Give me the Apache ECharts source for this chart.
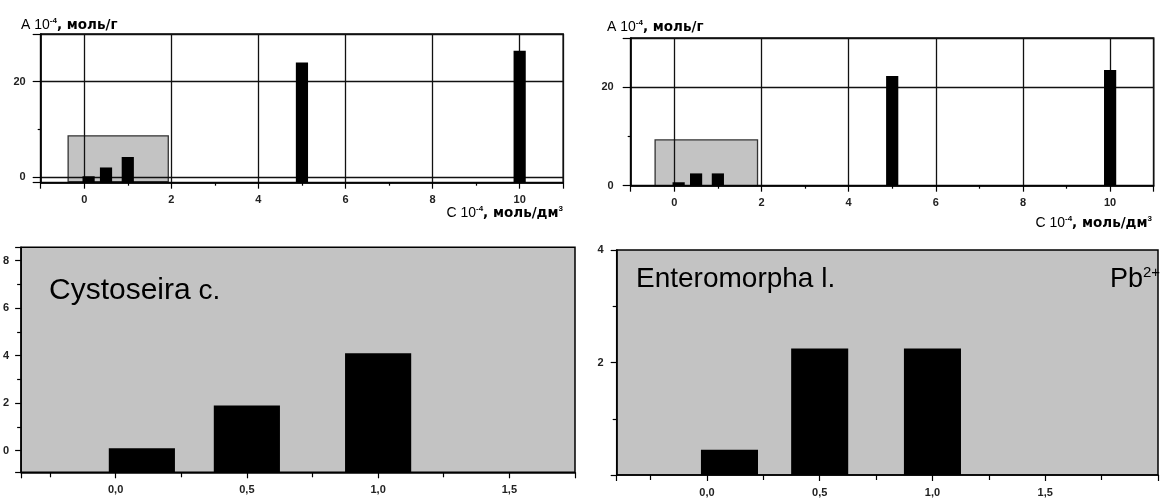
<!DOCTYPE html>
<html lang="ru">

<head>
    <meta charset="UTF-8">
    <title>Сорбция Pb2+</title>
    <script src="https://cdn.jsdelivr.net/npm/echarts@6/dist/echarts.min.js"></script>
    <style>
        html, body { margin: 0; padding: 0; background: #fff; overflow: hidden; }
        #main { width: 1161px; height: 500px; }
    </style>
</head>

<body>
    <div id="main"></div>
    <script>
        // C 10^-4, моль/дм3 -> A 10^-4, моль/г
        const concAll = [0.1, 0.5, 1, 5, 10]
        const cystoseiraAll = [0.1, 1.95, 4.15, 24, 26.5]
        const enteromorphaAll = [0.7, 2.5, 2.5, 22.3, 23.5]

        // enlarged part (lower panels)
        const concLow = [0.1, 0.5, 1]
        const cystoseiraLow = [0.1, 1.9, 4.1]
        const enteromorphaLow = [0.45, 2.25, 2.25]

        // grey frame on the upper charts: [x0, x1, y0, y1]
        const cystoseiraFrame = [-0.37, 1.93, -1.05, 8.6]
        const enteromorphaFrame = [-0.44, 1.91, 0, 9.3]

        // tick labels
        const topXLabels = [0, 2, 4, 6, 8, 10]
        const topYLabels = [0, 20]
        const lowXLabels = [0, 0.5, 1, 1.5]
        const cystoseiraYLabels = [0, 2, 4, 6, 8]
        const enteromorphaYLabels = [2, 4]

        const GREY = '#c3c3c3'
        const FONT = "'Liberation Sans', Arial, sans-serif"

        const chart = echarts.init(document.querySelector('#main'))

        const near = (list, v) => list.some(t => Math.abs(t - v) < 1e-6)

        const barItem = (w) => (params, api) => {
            let x = api.value(0)
            let y = api.value(1)
            let a = api.coord([x - w / 2, y])
            let b = api.coord([x + w / 2, y])
            let bottom = params.coordSys.y + params.coordSys.height
            return {
                type: 'rect',
                shape: { x: a[0], y: a[1], width: b[0] - a[0], height: bottom - a[1] },
                style: { fill: '#000' }
            }
        }

        const frameItem = (params, api) => {
            let p0 = api.coord([api.value(0), api.value(3)])
            let p1 = api.coord([api.value(1), api.value(2)])
            return {
                type: 'rect',
                shape: { x: p0[0], y: p0[1], width: p1[0] - p0[0], height: p1[1] - p0[1] },
                style: { fill: GREY, stroke: '#333', lineWidth: 1.3 }
            }
        }

        const axis = (gridIndex, min, max, step, labels, fmt, split, margin, tickLen, minorLen) => ({
            type: 'value',
            gridIndex: gridIndex,
            min: min,
            max: max,
            minInterval: step,
            maxInterval: step,
            axisLine: { onZero: false, lineStyle: { color: '#000', width: 1.5 } },
            axisTick: { length: tickLen, lineStyle: { color: '#000', width: 1.2 } },
            minorTick: { show: true, splitNumber: 2, length: minorLen, lineStyle: { color: '#000', width: 1.2 } },
            axisLabel: {
                margin: margin,
                fontFamily: FONT, fontSize: 11, fontWeight: 'bold', color: '#222',
                formatter: v => near(labels, v) ? fmt(v) : ''
            },
            splitLine: { show: split, lineStyle: { color: '#111', width: 1.3 } }
        })

        const plain = v => String(Math.round(v))
        const comma = v => v.toFixed(1).replace('.', ',')

        const unitRich = {
            a: { fontFamily: FONT, fontSize: 14, color: '#111', lineHeight: 16 },
            s: { fontFamily: FONT, fontSize: 8, fontWeight: 'bold', color: '#111', verticalAlign: 'top', lineHeight: 16 },
            b: { fontFamily: "'DejaVu Sans', sans-serif", fontSize: 13.5, fontWeight: 'bold', color: '#111', lineHeight: 16 }
        }

        const label = (x, y, text, align, rich) => ({
            type: 'text',
            x: x,
            y: y,
            style: { text: text, rich: rich, align: align, verticalAlign: 'middle' }
        })

        const option = {
            animation: false,
            grid: [
                { left: 40.7, top: 34, width: 522.5, height: 148.7, show: true, borderColor: '#000', borderWidth: 1.5, backgroundColor: 'transparent' },
                { left: 630.7, top: 38.1, width: 523, height: 147.6, show: true, borderColor: '#000', borderWidth: 1.5, backgroundColor: 'transparent' },
                { left: 21, top: 247.3, width: 554, height: 225, show: true, borderColor: '#000', borderWidth: 1.5, backgroundColor: GREY },
                { left: 616.7, top: 250, width: 583, height: 225, show: true, borderColor: '#000', borderWidth: 1.5, backgroundColor: GREY }
            ],
            xAxis: [
                axis(0, -1, 11, 2, topXLabels, plain, true, 12, 6, 3),
                axis(1, -1, 11, 2, topXLabels, plain, true, 12, 6, 3),
                axis(2, -0.36, 1.75, 0.5, lowXLabels, comma, false, 12, 6, 5),
                axis(3, -0.4, 2.0, 0.5, lowXLabels, comma, false, 12, 6, 5)
            ],
            yAxis: [
                axis(0, -1.25, 30, 20, topYLabels, plain, true, 15, 8, 3),
                axis(1, 0, 30, 20, topYLabels, plain, true, 17, 8, 3),
                axis(2, -0.91, 8.56, 2, cystoseiraYLabels, plain, false, 12, 6, 4),
                axis(3, 0, 4, 2, enteromorphaYLabels, plain, false, 13, 6, 4)
            ],
            series: [
                { type: 'custom', xAxisIndex: 0, yAxisIndex: 0, z: -1, renderItem: frameItem, data: [cystoseiraFrame] },
                { type: 'custom', xAxisIndex: 1, yAxisIndex: 1, z: -1, renderItem: frameItem, data: [enteromorphaFrame] },
                { type: 'custom', xAxisIndex: 0, yAxisIndex: 0, renderItem: barItem(0.28), data: concAll.map((c, i) => [c, cystoseiraAll[i]]) },
                { type: 'custom', xAxisIndex: 1, yAxisIndex: 1, renderItem: barItem(0.28), data: concAll.map((c, i) => [c, enteromorphaAll[i]]) },
                { type: 'custom', xAxisIndex: 2, yAxisIndex: 2, renderItem: barItem(0.252), data: concLow.map((c, i) => [c, cystoseiraLow[i]]) },
                { type: 'custom', xAxisIndex: 3, yAxisIndex: 3, renderItem: barItem(0.253), data: concLow.map((c, i) => [c, enteromorphaLow[i]]) }
            ],
            graphic: [
                label(21, 25, '{a|A 10}{s|-4}{b|, моль/г}', 'left', unitRich),
                label(607, 27, '{a|A 10}{s|-4}{b|, моль/г}', 'left', unitRich),
                label(563, 213, '{a|C 10}{s|-4}{b|, моль/дм}{s|3}', 'right', unitRich),
                label(1152, 223, '{a|C 10}{s|-4}{b|, моль/дм}{s|3}', 'right', unitRich),
                label(49, 291, '{m|Cystoseira}{c| c.}', 'left', {
                    m: { fontFamily: FONT, fontSize: 30, color: '#111' },
                    c: { fontFamily: FONT, fontSize: 28, color: '#111' }
                }),
                label(636, 279, '{m|Enteromorpha l.}', 'left', {
                    m: { fontFamily: FONT, fontSize: 28, color: '#111' }
                }),
                label(1110, 280, '{m|Pb}{s|2+}', 'left', {
                    m: { fontFamily: FONT, fontSize: 27, color: '#111', lineHeight: 30 },
                    s: { fontFamily: FONT, fontSize: 15, color: '#111', verticalAlign: 'top', lineHeight: 30 }
                })
            ]
        }

        chart.setOption(option)
    </script>
</body>

</html>
